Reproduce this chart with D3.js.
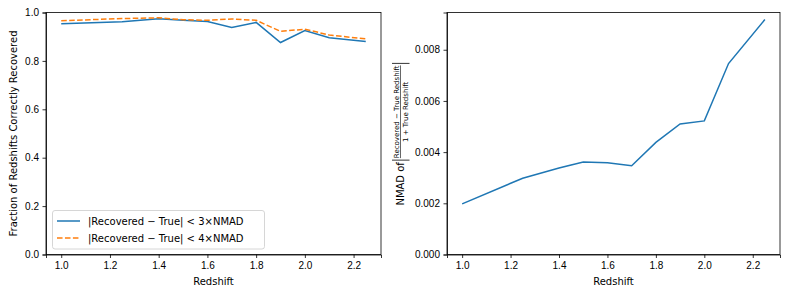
<!DOCTYPE html>
<html>
<head>
<meta charset="utf-8">
<script src="https://cdn.jsdelivr.net/npm/d3@7"></script>
<style>
  body { margin: 0; background: #fff; }
  svg { font-family: "DejaVu Sans", sans-serif; }
  .tick text { font-size: 10px; fill: #000; }
  .tick line, .domain { stroke: #000; stroke-width: 0.8; }
</style>
</head>
<body>
<div class="chart"></div>
<script>
// Data
var redshift = [1.0, 1.25, 1.4, 1.5, 1.6, 1.7, 1.8, 1.9, 2.0, 2.1, 2.25];
var frac3 = [0.953, 0.962, 0.974, 0.968, 0.963, 0.938, 0.959, 0.876, 0.925, 0.896, 0.880];
var frac4 = [0.966, 0.975, 0.978, 0.970, 0.968, 0.973, 0.968, 0.922, 0.931, 0.907, 0.891];
var nmad = [0.00198, 0.00298, 0.00338, 0.00361, 0.00358, 0.00347, 0.00438, 0.0051, 0.00522, 0.00746, 0.00918];

var xTicks = [1.0, 1.2, 1.4, 1.6, 1.8, 2.0, 2.2];
var fracTicks = [0.0, 0.2, 0.4, 0.6, 0.8, 1.0];
var nmadTicks = [0.000, 0.002, 0.004, 0.006, 0.008];
var legendLabels = ["|Recovered \u2212 True| < 3\u00d7NMAD", "|Recovered \u2212 True| < 4\u00d7NMAD"];

var svgWidth = 788;
var svgHeight = 296;

var svg = d3.select(".chart")
  .append("svg")
  .attr("width", svgWidth)
  .attr("height", svgHeight);

// panel boxes
var left = { x0: 46, x1: 381, y0: 12.5, y1: 254.5 };
var right = { x0: 447, x1: 780, y0: 12.5, y1: 254.5 };

function makePanel(box) {
  var g = svg.append("g");
  var x = d3.scaleLinear().domain([0.9375, 2.3125]).range([box.x0, box.x1]);
  return { g: g, x: x };
}

// ---------- left panel ----------
var p1 = makePanel(left);
var y1 = d3.scaleLinear().domain([0, 1]).range([left.y1, left.y0]);

p1.g.append("g")
  .attr("transform", `translate(0, ${left.y1})`)
  .call(d3.axisBottom(p1.x).tickValues(xTicks).tickFormat(d3.format(".1f")).tickSize(3.5).tickPadding(3.5));

p1.g.append("g")
  .attr("transform", `translate(${left.x0}, 0)`)
  .call(d3.axisLeft(y1).tickValues(fracTicks).tickFormat(d3.format(".1f")).tickSize(3.5).tickPadding(3.5));

p1.g.append("rect")
  .attr("x", left.x0).attr("y", left.y0)
  .attr("width", left.x1 - left.x0).attr("height", left.y1 - left.y0)
  .attr("fill", "none").attr("stroke", "#000").attr("stroke-width", 0.8);

var line1 = d3.line().x((d, i) => p1.x(redshift[i])).y(d => y1(d));

p1.g.append("path")
  .datum(frac3)
  .attr("d", line1)
  .attr("fill", "none")
  .attr("stroke", "#1f77b4")
  .attr("stroke-width", 1.5);

p1.g.append("path")
  .datum(frac4)
  .attr("d", line1)
  .attr("fill", "none")
  .attr("stroke", "#ff7f0e")
  .attr("stroke-width", 1.5)
  .attr("stroke-dasharray", "5.55,2.4");

// legend
var legend = p1.g.append("g");
legend.append("rect")
  .attr("x", 52.5).attr("y", 210.5)
  .attr("width", 212).attr("height", 38.5)
  .attr("rx", 2.5)
  .attr("fill", "#fff").attr("fill-opacity", 0.8)
  .attr("stroke", "#ccc").attr("stroke-width", 0.8);

var legendStyles = [
  { color: "#1f77b4", dash: null },
  { color: "#ff7f0e", dash: "5.55,2.4" }
];
legendLabels.forEach(function(label, i) {
  var ly = 221 + i * 17;
  legend.append("line")
    .attr("x1", 57).attr("x2", 80)
    .attr("y1", ly).attr("y2", ly)
    .attr("stroke", legendStyles[i].color)
    .attr("stroke-width", 1.5)
    .attr("stroke-dasharray", legendStyles[i].dash);
  legend.append("text")
    .attr("x", 88)
    .attr("y", ly)
    .attr("dy", "0.35em")
    .attr("font-size", 10)
    .text(label);
});

p1.g.append("text")
  .attr("x", (left.x0 + left.x1) / 2)
  .attr("y", 285)
  .attr("text-anchor", "middle")
  .attr("font-size", 10)
  .text("Redshift");

p1.g.append("text")
  .attr("transform", `translate(16.5, ${(left.y0 + left.y1) / 2}) rotate(-90)`)
  .attr("text-anchor", "middle")
  .attr("font-size", 10)
  .text("Fraction of Redshifts Correctly Recovered");

// ---------- right panel ----------
var p2 = makePanel(right);
var y2 = d3.scaleLinear().domain([0, 0.009455]).range([right.y1, right.y0]);

p2.g.append("g")
  .attr("transform", `translate(0, ${right.y1})`)
  .call(d3.axisBottom(p2.x).tickValues(xTicks).tickFormat(d3.format(".1f")).tickSize(3.5).tickPadding(3.5));

p2.g.append("g")
  .attr("transform", `translate(${right.x0}, 0)`)
  .call(d3.axisLeft(y2).tickValues(nmadTicks).tickFormat(d3.format(".3f")).tickSize(3.5).tickPadding(3.5));

p2.g.append("rect")
  .attr("x", right.x0).attr("y", right.y0)
  .attr("width", right.x1 - right.x0).attr("height", right.y1 - right.y0)
  .attr("fill", "none").attr("stroke", "#000").attr("stroke-width", 0.8);

p2.g.append("path")
  .datum(nmad)
  .attr("d", d3.line().x((d, i) => p2.x(redshift[i])).y(d => y2(d)))
  .attr("fill", "none")
  .attr("stroke", "#1f77b4")
  .attr("stroke-width", 1.5);

p2.g.append("text")
  .attr("x", (right.x0 + right.x1) / 2)
  .attr("y", 285)
  .attr("text-anchor", "middle")
  .attr("font-size", 10)
  .text("Redshift");

// y label with fraction inside absolute bars
var lab = p2.g.append("g");
var nm = lab.append("text").attr("font-size", 10).attr("y", 0).text("NMAD of ");
var num = lab.append("text").attr("font-size", 7).attr("y", -5.5).attr("text-anchor", "middle").text("Recovered \u2212 True Redshift");
var den = lab.append("text").attr("font-size", 7).attr("y", 4.2).attr("text-anchor", "middle").text("1 + True Redshift");

var nmW = nm.node().getComputedTextLength();
var fw = Math.max(num.node().getComputedTextLength(), den.node().getComputedTextLength()) + 2;
var total = nmW + fw + 6;
var sx = -total / 2;
nm.attr("x", sx);
var fx = sx + nmW + 3;
num.attr("x", fx + fw / 2);
den.attr("x", fx + fw / 2);
lab.append("line")
  .attr("x1", fx + 1).attr("x2", fx + fw - 1)
  .attr("y1", -3.5).attr("y2", -3.5)
  .attr("stroke", "#000").attr("stroke-width", 0.6);
[fx - 1, fx + fw + 1].forEach(function(bx) {
  lab.append("line")
    .attr("x1", bx).attr("x2", bx)
    .attr("y1", -12).attr("y2", 5.5)
    .attr("stroke", "#000").attr("stroke-width", 0.8);
});
lab.attr("transform", `translate(404, ${(right.y0 + right.y1) / 2}) rotate(-90)`);
</script>
</body>
</html>
